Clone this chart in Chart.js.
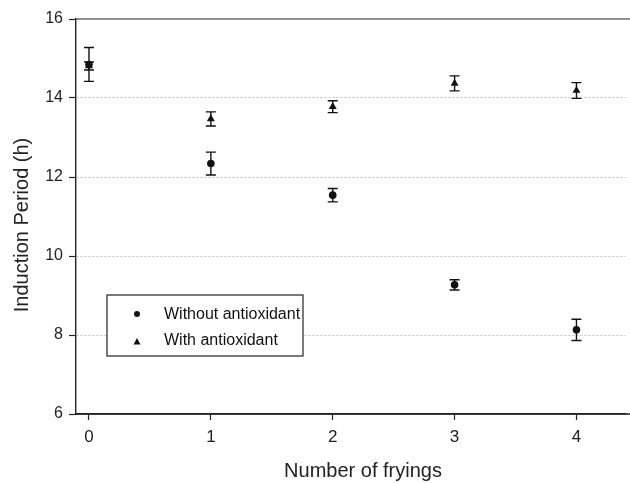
<!DOCTYPE html>
<html>
<head>
<meta charset="utf-8">
<script src="https://cdn.jsdelivr.net/npm/chart.js@4.4.0/dist/chart.umd.min.js"></script>
<style>
  body { margin: 0; background: #fff; }
  #wrap { width: 630px; height: 483px; }
</style>
</head>
<body>
<div id="wrap"><canvas id="myChart" width="630" height="483"></canvas></div>
<script>
const ctx = document.getElementById('myChart');

// data
var fryings = [0, 1, 2, 3, 4];
var withoutAO = [14.85, 12.34, 11.54, 9.27, 8.13];
var withoutErr = [0.43, 0.29, 0.17, 0.13, 0.27];
var withAO = [14.81, 13.47, 13.78, 14.37, 14.19];
var withErr = [0.10, 0.18, 0.15, 0.19, 0.20];
var xTicks = [0, 1, 2, 3, 4];
var yTicks = [6, 8, 10, 12, 14, 16];
var legendLabels = ['Without antioxidant', 'With antioxidant'];
var xTitle = 'Number of fryings';
var yTitle = 'Induction Period (h)';

var fontName = '"Liberation Sans", Arial, Helvetica, sans-serif';

function toPoints(xs, ys, errs) {
  return xs.map((x, i) => ({ x: x, y: ys[i], err: errs[i] }));
}

// error bars, frame lines, axis titles and the boxed legend
const extras = {
  id: 'extras',
  beforeDatasetsDraw(chart) {
    const c = chart.ctx;
    const xs = chart.scales.x, ys = chart.scales.y;
    c.save();
    c.strokeStyle = '#111';
    c.lineWidth = 1.4;
    chart.data.datasets.forEach(ds => {
      ds.data.forEach(p => {
        const px = xs.getPixelForValue(p.x);
        const top = ys.getPixelForValue(p.y + p.err);
        const bot = ys.getPixelForValue(p.y - p.err);
        c.beginPath();
        c.moveTo(px, top); c.lineTo(px, bot);
        c.moveTo(px - 5, top); c.lineTo(px + 5, top);
        c.moveTo(px - 5, bot); c.lineTo(px + 5, bot);
        c.stroke();
      });
    });
    // frame lines run to the right edge of the figure
    const a = chart.chartArea;
    c.lineWidth = 1.2;
    c.strokeStyle = '#222';
    c.beginPath();
    c.moveTo(a.left, a.top); c.lineTo(chart.width, a.top);
    c.stroke();
    c.lineWidth = 1.4;
    c.beginPath();
    c.moveTo(a.left, a.bottom); c.lineTo(chart.width, a.bottom);
    c.stroke();
    c.restore();
  },
  afterDraw(chart) {
    const c = chart.ctx;
    c.save();
    // axis titles (the original sets them a little off centre)
    c.fillStyle = '#222';
    c.font = '20px ' + fontName;
    c.textAlign = 'center';
    c.textBaseline = 'alphabetic';
    c.fillText(xTitle, 363, 477);
    c.translate(28, 225);
    c.rotate(-Math.PI / 2);
    c.fillText(yTitle, 0, 0);
    c.restore();

    c.save();
    c.fillStyle = '#fff';
    c.fillRect(107, 295, 196, 61);
    c.strokeStyle = '#222';
    c.lineWidth = 1.2;
    c.strokeRect(107, 295, 196, 61);
    c.fillStyle = '#111';
    c.font = '16px ' + fontName;
    c.textBaseline = 'middle';
    // circle
    c.beginPath();
    c.arc(137, 314, 3, 0, Math.PI * 2);
    c.fill();
    c.fillText(legendLabels[0], 164, 315);
    // triangle
    c.beginPath();
    c.moveTo(137, 338); c.lineTo(140.5, 344.5); c.lineTo(133.5, 344.5);
    c.closePath();
    c.fill();
    c.fillText(legendLabels[1], 164, 341);
    c.restore();
  }
};

var chart = new Chart(ctx, {
  type: 'scatter',
  data: {
    datasets: [{
      label: legendLabels[0],
      data: toPoints(fryings, withoutAO, withoutErr),
      pointStyle: 'circle',
      pointRadius: 3.8,
      backgroundColor: '#111',
      borderColor: '#111',
      borderWidth: 0
    },
    {
      label: legendLabels[1],
      data: toPoints(fryings, withAO, withErr),
      pointStyle: 'triangle',
      pointRadius: 4.6,
      backgroundColor: '#111',
      borderColor: '#111',
      borderWidth: 0
    }]
  },
  options: {
    responsive: false,
    animation: false,
    layout: { padding: { top: 19, right: 0, left: 0, bottom: 0 } },
    plugins: {
      legend: { display: false },
      tooltip: { enabled: false }
    },
    scales: {
      x: {
        type: 'linear',
        min: -0.1066,
        max: 4.4016,
        afterBuildTicks: axis => { axis.ticks = xTicks.map(v => ({ value: v })); },
        afterFit: axis => { axis.height = 69; },
        border: { display: true, color: '#222', width: 1.4 },
        grid: { drawOnChartArea: false, drawTicks: true, tickLength: 6, tickColor: '#222', tickWidth: 1.2 },
        ticks: { color: '#222', padding: 7, maxRotation: 0, font: { family: fontName, size: 17 } },
        title: { display: false }
      },
      y: {
        min: 6,
        max: 16,
        afterBuildTicks: axis => { axis.ticks = yTicks.map(v => ({ value: v })); },
        afterFit: axis => { axis.width = 76; },
        border: { display: true, color: '#222', width: 1.4, dash: [2, 2] },
        grid: {
          color: c => (c.tick && (c.tick.value === 6 || c.tick.value === 16)) ? 'rgba(0,0,0,0)' : '#c4c4c4',
          lineWidth: 1,
          tickLength: 7,
          tickColor: '#222',
          tickWidth: 1.2,
          tickBorderDash: []
        },
        ticks: { color: '#222', padding: 6, font: { family: fontName, size: 16 } },
        title: { display: false }
      }
    }
  },
  plugins: [extras]
});
</script>
</body>
</html>
